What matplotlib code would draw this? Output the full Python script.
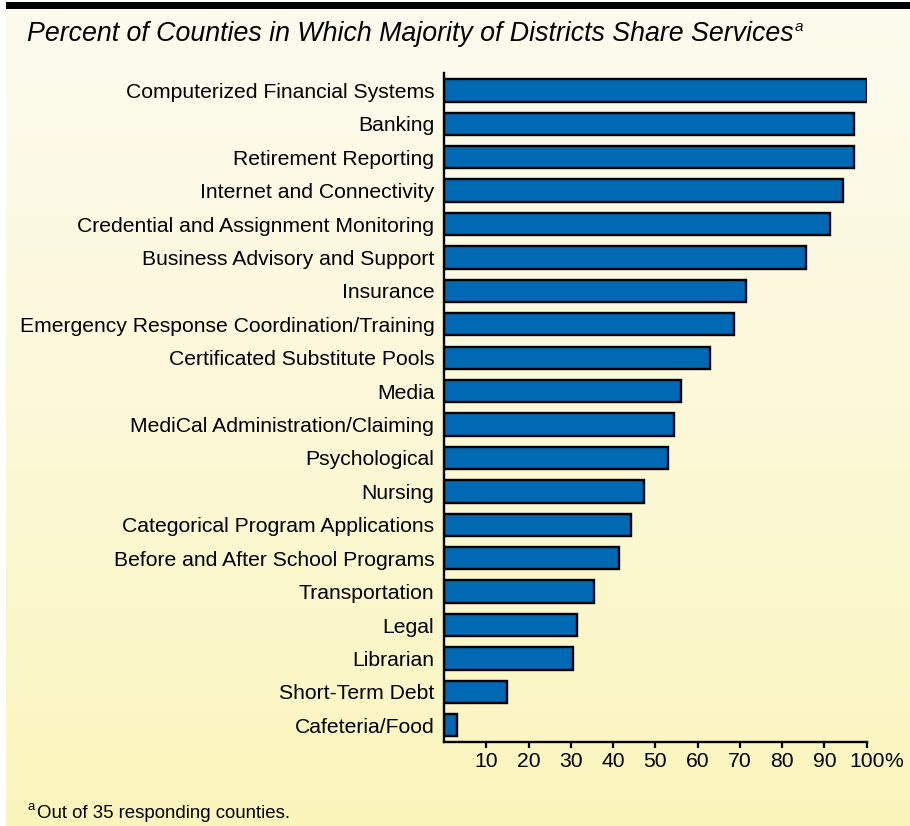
import numpy as np
import matplotlib.pyplot as plt
from matplotlib.patches import Rectangle

plt.rcParams['font.family'] = ['Liberation Sans', 'DejaVu Sans']

services = [
    "Computerized Financial Systems",
    "Banking",
    "Retirement Reporting",
    "Internet and Connectivity",
    "Credential and Assignment Monitoring",
    "Business Advisory and Support",
    "Insurance",
    "Emergency Response Coordination/Training",
    "Certificated Substitute Pools",
    "Media",
    "MediCal Administration/Claiming",
    "Psychological",
    "Nursing",
    "Categorical Program Applications",
    "Before and After School Programs",
    "Transportation",
    "Legal",
    "Librarian",
    "Short-Term Debt",
    "Cafeteria/Food",
]
percent = [100, 97.1, 97.1, 94.3, 91.4, 85.7, 71.4, 68.6, 62.9, 56.0,
           54.3, 53.0, 47.2, 44.3, 41.4, 35.4, 31.5, 30.5, 14.9, 3.0]
ticks = [10, 20, 30, 40, 50, 60, 70, 80, 90, 100]

W, H = 910, 826
fig = plt.figure(figsize=(W / 100, H / 100), dpi=100)
fig.patch.set_facecolor("white")

# cream-to-yellow background panel
bg = fig.add_axes([6 / W, 0, 1 - 6 / W, 1 - 9 / H])
grad = np.linspace(0, 1, 256).reshape(-1, 1)
top = np.array([253, 251, 237]) / 255
bot = np.array([251, 245, 188]) / 255
img = top + (bot - top) * grad[:, :, None] ** 1.2
bg.imshow(img.reshape(256, 1, 3), aspect="auto", extent=[0, 1, 0, 1])
bg.set_axis_off()

# black strip on top
fig.patches.append(Rectangle((6 / W, 1 - 9 / H), 1, 7 / H, transform=fig.transFigure,
                             facecolor="black", edgecolor="none", zorder=5))

title = fig.text(27 / W, 1 - 34 / H,
                 "Percent of Counties in Which Majority of Districts Share Services",
                 fontsize=19.3, style="italic", va="center", ha="left")

ax = fig.add_axes([444 / W, 1 - 742 / H, (866.7 - 444) / W, (742 - 73) / H])
ax.patch.set_alpha(0)
y = np.arange(len(services))
ax.barh(y, percent, height=0.67, color="#0069B4", edgecolor="black", linewidth=1.7)
ax.set_ylim(len(services) - 0.5, -0.52)
ax.set_xlim(0, 100)
ax.set_yticks(y)
ax.set_yticklabels(services, fontsize=15.2)
ax.tick_params(axis="y", length=0, pad=7)
ax.set_xticks(ticks)
ax.set_xticklabels([str(t) for t in ticks], fontsize=15.2)
ax.tick_params(axis="x", length=4, width=1.6, pad=3, direction="out")
for s in ["top", "right"]:
    ax.spines[s].set_visible(False)
for s in ["left", "bottom"]:
    ax.spines[s].set_linewidth(1.7)

fig.text(28 / W, 1 - 807 / H, "a", fontsize=9.5, va="center", ha="left")
fig.text(37 / W, 1 - 813 / H, "Out of 35 responding counties.",
         fontsize=13.4, va="center", ha="left")

# place the small superscript on the title and the % after "100"
fig.canvas.draw()
r = fig.canvas.get_renderer()
tb = title.get_window_extent(r)
fig.text(tb.x1 / W + 1 / W, 1 - 27 / H, "a", fontsize=11, style="italic",
         va="center", ha="left")
lab100 = ax.get_xticklabels()[-1].get_window_extent(r)
fig.text(lab100.x1 / W, (lab100.y0 + lab100.y1) / 2 / H, "%", fontsize=15.2,
         va="center", ha="left")

fig.savefig("out.png", dpi=100, facecolor=fig.get_facecolor())
